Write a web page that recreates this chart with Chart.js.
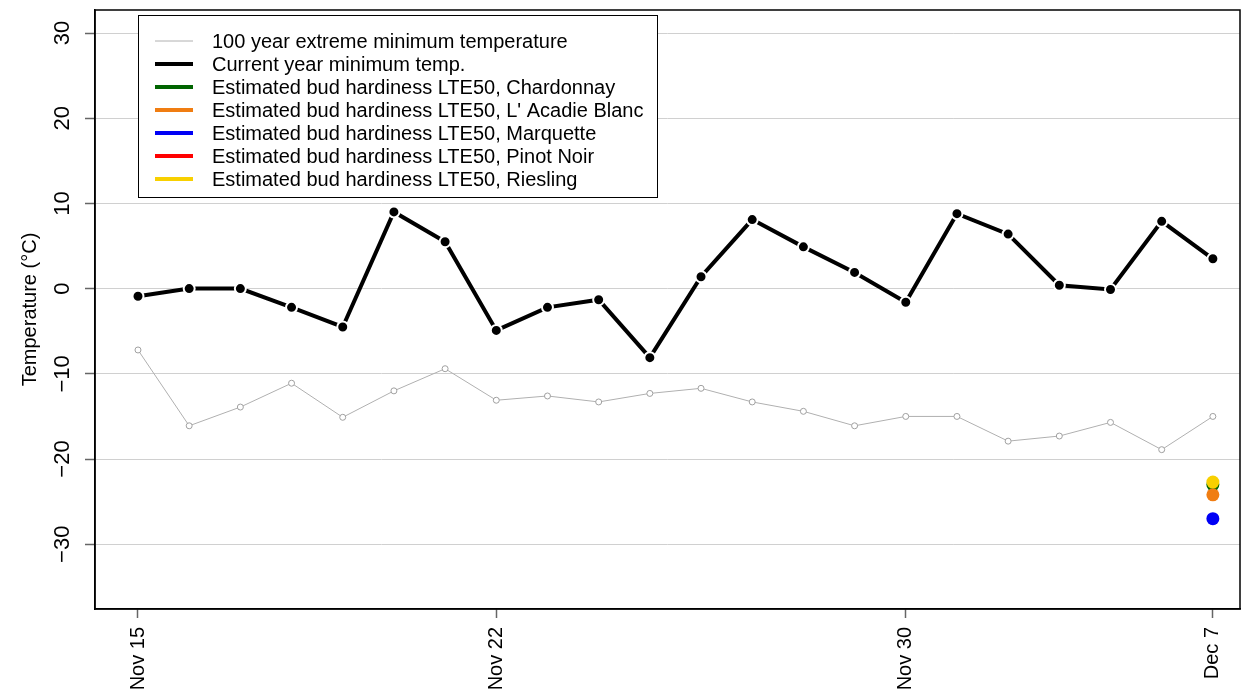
<!DOCTYPE html>
<html>
<head>
<meta charset="utf-8">
<script src="https://cdn.jsdelivr.net/npm/chart.js@4.4.1/dist/chart.umd.min.js"></script>
<style>
  html, body { margin: 0; padding: 0; background: #fff; }
</style>
</head>
<body>
<canvas id="my-chart" width="1241" height="693"></canvas>
<script>
'use strict';

// ******** DATA **************
let days = ['Nov 15', 'Nov 16', 'Nov 17', 'Nov 18', 'Nov 19', 'Nov 20', 'Nov 21', 'Nov 22',
  'Nov 23', 'Nov 24', 'Nov 25', 'Nov 26', 'Nov 27', 'Nov 28', 'Nov 29', 'Nov 30',
  'Dec 2', 'Dec 3', 'Dec 4', 'Dec 5', 'Dec 6', 'Dec 7'];
let tickLabels = ['Nov 15', 'Nov 22', 'Nov 30', 'Dec 7'];
let yTicks = [-30, -20, -10, 0, 10, 20, 30];

let extremeMin = [-7.2, -16.1, -13.9, -11.1, -15.1, -12.0, -9.4, -13.1, -12.6, -13.3, -12.3,
  -11.7, -13.3, -14.4, -16.1, -15.0, -15.0, -17.9, -17.3, -15.7, -18.9, -15.0];
let currentMin = [-0.9, 0.0, 0.0, -2.2, -4.5, 9.0, 5.5, -4.9, -2.2, -1.3, -8.1,
  1.4, 8.1, 4.9, 1.9, -1.6, 8.8, 6.4, 0.4, -0.1, 7.9, 3.5];

// bud hardiness only known for the last day
let cultivars = ['Chardonnay', "L' Acadie Blanc", 'Marquette', 'Pinot Noir', 'Riesling'];
let lte50 = [-23.0, -24.2, -27.0, null, -22.7];
let cultivarColors = ['#006400', '#f07d12', '#0000f5', '#ff0000', '#f8d000'];

// ********* HELPERS *************
function toPoints(arr) {
  return arr.map((v, i) => ({ x: i, y: v }));
}

let datasets = [
  {
    label: '100 year extreme minimum temperature',
    data: toPoints(extremeMin),
    borderColor: '#b0b0b0',
    borderWidth: 1,
    pointRadius: 3,
    pointBackgroundColor: '#fff',
    pointBorderColor: '#a0a0a0',
    pointBorderWidth: 1,
    legendLineWidth: 1,
    order: 10
  },
  {
    label: 'Current year minimum temp.',
    data: toPoints(currentMin),
    borderColor: '#000',
    borderWidth: 4,
    pointRadius: 5.5,
    pointBackgroundColor: '#000',
    pointBorderColor: '#fff',
    pointBorderWidth: 2,
    legendLineWidth: 4,
    order: 9
  }
];

for (let i = 0; i < cultivars.length; i++) {
  datasets.push({
    label: 'Estimated bud hardiness LTE50, ' + cultivars[i],
    data: lte50[i] === null ? [] : [{ x: days.length - 1, y: lte50[i] }],
    borderColor: cultivarColors[i],
    backgroundColor: cultivarColors[i],
    showLine: false,
    pointRadius: 6.5,
    pointBorderWidth: 0,
    legendLineWidth: 4,
    order: 8 - i
  });
}

// ********* PLUGINS *************
let frameBox = {
  id: 'frameBox',
  afterDraw(chart) {
    let a = chart.chartArea;
    let ctx = chart.ctx;
    ctx.save();
    ctx.strokeStyle = '#000';
    ctx.lineWidth = 1.5;
    ctx.strokeRect(a.left, a.top, a.right - a.left, a.bottom - a.top);
    ctx.restore();
  }
};

let boxLegend = {
  id: 'boxLegend',
  afterDraw(chart) {
    let ctx = chart.ctx;
    let x0 = 138, y0 = 15, w = 519, h = 182;
    ctx.save();
    ctx.fillStyle = '#fff';
    ctx.fillRect(x0, y0, w, h);
    ctx.strokeStyle = '#000';
    ctx.lineWidth = 1;
    ctx.strokeRect(x0 + 0.5, y0 + 0.5, w, h);
    ctx.font = '20px "Liberation Sans", Arial, sans-serif';
    ctx.textBaseline = 'middle';
    ctx.fillStyle = '#000';
    chart.data.datasets.forEach((ds, i) => {
      let y = 41 + i * 23;
      ctx.strokeStyle = ds.borderColor;
      ctx.lineWidth = ds.legendLineWidth;
      ctx.beginPath();
      ctx.moveTo(155, y);
      ctx.lineTo(193, y);
      ctx.stroke();
      ctx.fillText(ds.label, 212, y + 1);
    });
    ctx.restore();
  }
};

// ********* CHART *************
let canvasElem = document.getElementById('my-chart');
let fontFamily = '"Liberation Sans", Arial, sans-serif';

new Chart(canvasElem, {
  type: 'line',
  data: { datasets: datasets },
  options: {
    responsive: false,
    animation: false,
    layout: { autoPadding: false, padding: { top: 10, right: 1, left: 0, bottom: 0 } },
    plugins: {
      legend: { display: false },
      tooltip: { enabled: false }
    },
    scales: {
      x: {
        type: 'linear',
        min: -0.84,
        max: 21.53,
        afterBuildTicks: (s) => {
          s.ticks = tickLabels.map(l => ({ value: days.indexOf(l) }));
        },
        afterFit: (s) => {
          s.height = 84;
          s.paddingLeft = 0;
          s.paddingRight = 0;
        },
        ticks: {
          autoSkip: false,
          minRotation: 90,
          maxRotation: 90,
          padding: 9,
          color: '#000',
          font: { family: fontFamily, size: 20 },
          callback: (v) => days[v]
        },
        grid: {
          drawOnChartArea: false,
          tickLength: 9,
          tickColor: '#666',
          tickWidth: 1.5
        },
        border: { color: '#000', width: 1.5 }
      },
      y: {
        min: -37.6,
        max: 32.7,
        afterBuildTicks: (s) => {
          s.ticks = yTicks.map(v => ({ value: v }));
        },
        afterFit: (s) => {
          s.width = 95;
          s.paddingTop = 0;
          s.paddingBottom = 0;
        },
        ticks: {
          minRotation: 90,
          maxRotation: 90,
          crossAlign: 'center',
          padding: 3,
          color: '#000',
          font: { family: fontFamily, size: 22 },
          callback: (v) => (v < 0 ? '\u2212' + Math.abs(v) : String(v))
        },
        grid: {
          color: '#d0d0d0',
          lineWidth: 1,
          tickLength: 10,
          tickColor: '#666',
          tickWidth: 1.5
        },
        border: { color: '#000', width: 1.5 },
        title: {
          display: true,
          text: 'Temperature (°C)',
          color: '#000',
          font: { family: fontFamily, size: 20 },
          padding: { top: 18, bottom: 0 }
        }
      }
    }
  },
  plugins: [frameBox, boxLegend]
});
</script>
</body>
</html>
